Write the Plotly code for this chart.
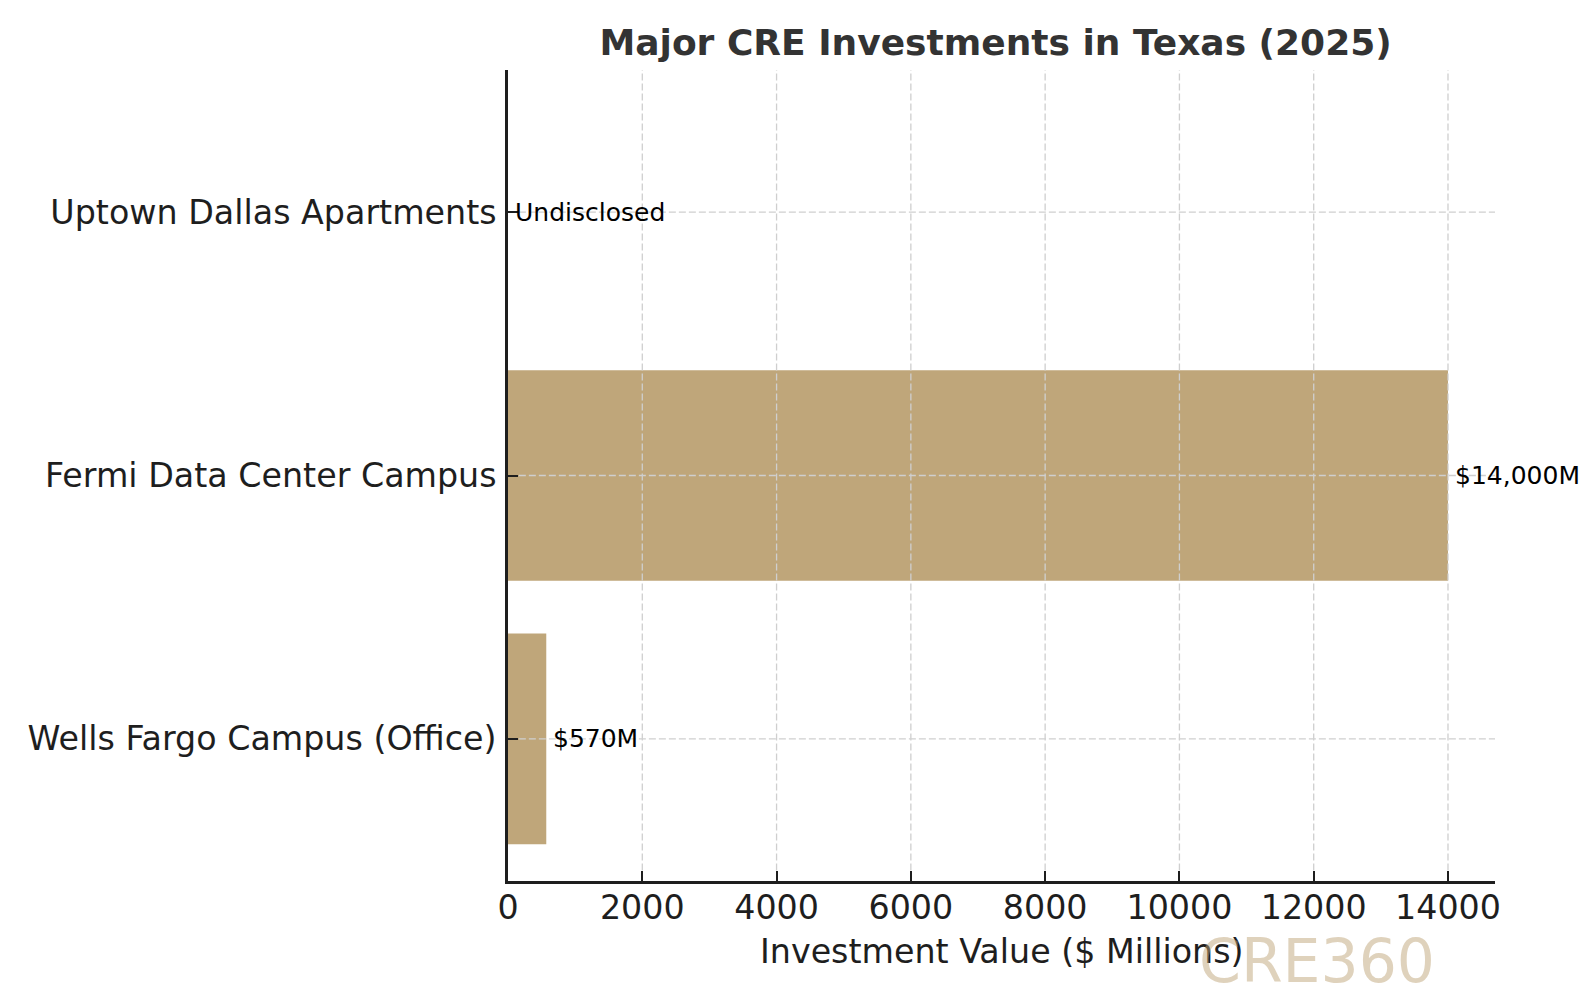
import plotly.graph_objects as go

projects = ["Wells Fargo Campus (Office)", "Fermi Data Center Campus", "Uptown Dallas Apartments"]
values = [570, 14000, 0]
value_labels = ["$570M", "$14,000M", "Undisclosed"]
x_ticks = [0, 2000, 4000, 6000, 8000, 10000, 12000, 14000]

BAR_COLOR = "#BFA67A"
GRID_COLOR = "#cfcfcf"
AXIS_COLOR = "#1e1e1e"
FONT = "DejaVu Sans"

if __name__ == '__main__':
  fig = go.Figure()
  fig.add_trace(
    go.Bar(x=values, y=projects, orientation="h", width=0.8,
           marker=dict(color=BAR_COLOR, line=dict(width=0)), showlegend=False)
  )

  # value labels just to the right of each bar
  for p, v, lbl in zip(projects, values, value_labels):
    fig.add_annotation(x=v + 70, y=p, text=lbl, showarrow=False,
                       xanchor="left", yanchor="middle",
                       font=dict(family=FONT, size=25, color="black"))

  # dashed grid drawn over the bars (like matplotlib), leaving the inside ticks visible
  for t in x_ticks[1:]:
    fig.add_shape(type="line", x0=t, x1=t, y0=0.013, y1=1, yref="paper", layer="above",
                  line=dict(color=GRID_COLOR, width=1.3, dash="7px,3px"))
  for p in projects:
    fig.add_shape(type="line", x0=0.011, x1=1, xref="paper", y0=p, y1=p, layer="above",
                  line=dict(color=GRID_COLOR, width=1.3, dash="7px,3px"))

  fig.update_layout(
    width=1590, height=1003,
    margin=dict(l=500, r=103, t=62, b=130),
    plot_bgcolor="white", paper_bgcolor="white",
    font=dict(family=FONT, color=AXIS_COLOR),
    title=dict(text="Major CRE Investments in Texas (2025)", x=0.494, xref="paper",
               y=1 - 34.5 / 1003, yref="container", yanchor="middle",
               font=dict(family=FONT, size=36, color="#333333", weight="bold")),
  )
  fig.update_xaxes(range=[0, 14700], tickvals=x_ticks, ticktext=[str(t) for t in x_ticks],
                   showgrid=False, zeroline=False,
                   showline=True, linecolor=AXIS_COLOR, linewidth=2.5,
                   ticks="inside", ticklen=10, tickwidth=2, tickcolor=AXIS_COLOR,
                   tickfont=dict(family=FONT, size=33.3, color=AXIS_COLOR),
                   ticklabelstandoff=-5, layer="above traces")
  fig.update_yaxes(range=[-0.54, 2.54], showgrid=False, zeroline=False,
                   showline=True, linecolor=AXIS_COLOR, linewidth=2.5,
                   ticks="inside", ticklen=10, tickwidth=2, tickcolor=AXIS_COLOR,
                   tickfont=dict(family=FONT, size=33.3, color=AXIS_COLOR),
                   ticklabelstandoff=2, layer="above traces")

  fig.add_annotation(text="Investment Value ($ Millions)", x=0.5, y=-0.0875,
                     xref="paper", yref="paper", showarrow=False,
                     xanchor="center", yanchor="middle",
                     font=dict(family=FONT, size=33.3, color=AXIS_COLOR))
  fig.add_annotation(text="CRE360", x=0.82, y=-0.099, xref="paper", yref="paper",
                     showarrow=False, xanchor="center", yanchor="middle",
                     font=dict(family=FONT, size=60, color="rgba(191,166,122,0.5)"))

  fig.write_html("out.html")
